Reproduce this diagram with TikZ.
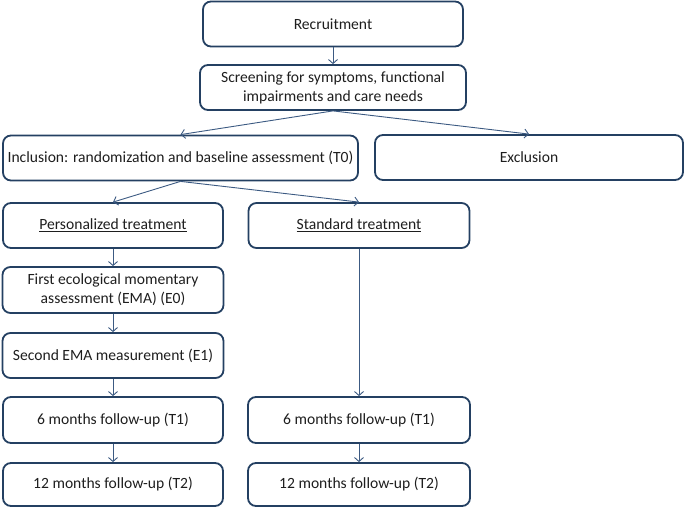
\documentclass[tikz,border=0pt]{standalone}
\usepackage{fontspec}
\setmainfont{Carlito}
\usetikzlibrary{arrows.meta}
\definecolor{boxblue}{RGB}{36,64,98}
\definecolor{arrowblue}{RGB}{60,90,130}
\definecolor{txt}{RGB}{30,30,30}
\begin{document}
\begin{tikzpicture}[x=1pt,y=-1pt,
 box/.style={draw=boxblue, line width=1.8pt, rounded corners=8pt, inner sep=0pt, align=center, font=\fontsize{15.6}{19}\selectfont, text=txt},
 conn/.style={draw=arrowblue, line width=0.9pt, -{Straight Barb[length=4pt,width=9pt]}}]
\useasboundingbox (0,0) rectangle (685,509);
\node[box, minimum width=260pt, minimum height=45pt] (rec) at (333,24) {Recruitment};
\node[box, minimum width=266pt, minimum height=45pt] (scr) at (333,87.5) {Screening for symptoms, functional\\impairments and care needs};
\node[box, minimum width=355pt, minimum height=45pt] (inc) at (180.5,158) {Inclusion: randomization and baseline assessment (T0)};
\node[box, minimum width=308pt, minimum height=45pt] (exc) at (529,157.5) {Exclusion};
\node[box, minimum width=220pt, minimum height=45pt] (per) at (113,225.5) {\underline{Personalized treatment}};
\node[box, minimum width=221pt, minimum height=45pt] (std) at (359,225.5) {\underline{Standard treatment}};
\node[box, minimum width=221pt, minimum height=46pt] (ema0) at (113,290) {First ecological momentary\\assessment (EMA) (E0)};
\node[box, minimum width=221pt, minimum height=45pt] (ema1) at (113,355.5) {Second EMA measurement (E1)};
\node[box, minimum width=220pt, minimum height=46pt] (l6) at (113,420) {6 months follow-up (T1)};
\node[box, minimum width=222pt, minimum height=46pt] (r6) at (359,420) {6 months follow-up (T1)};
\node[box, minimum width=220pt, minimum height=43pt] (l12) at (113,484.5) {12 months follow-up (T2)};
\node[box, minimum width=222pt, minimum height=43pt] (r12) at (359,484.5) {12 months follow-up (T2)};
\draw[conn] (rec.south) -- (scr.north);
\draw[conn] (scr.south) -- (inc.north);
\draw[conn] (scr.south) -- (exc.north);
\draw[conn] (inc.south) -- (per.north);
\draw[conn] (inc.south) -- (std.north);
\draw[conn] (per.south) -- (ema0.north);
\draw[conn] (ema0.south) -- (ema1.north);
\draw[conn] (ema1.south) -- (l6.north);
\draw[conn] (l6.south) -- (l12.north);
\draw[conn] (std.south) -- (r6.north);
\draw[conn] (r6.south) -- (r12.north);
\end{tikzpicture}
\end{document}
